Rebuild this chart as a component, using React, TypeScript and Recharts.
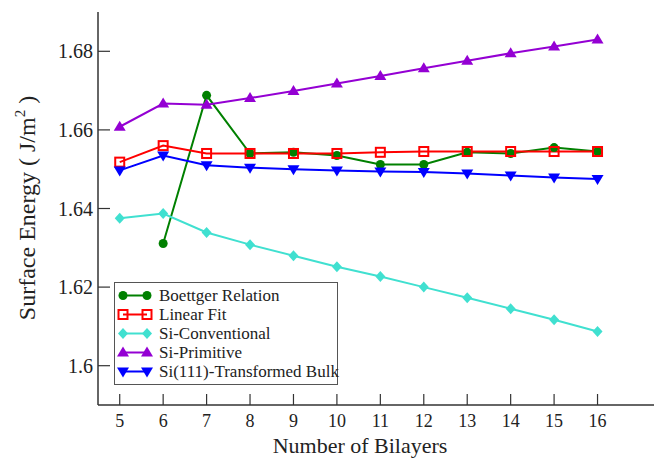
import React from 'react';
import { LineChart, Line, XAxis, YAxis } from 'recharts';

// values
const bilayers = [5, 6, 7, 8, 9, 10, 11, 12, 13, 14, 15, 16];
const boettger = [null, 1.6311, 1.6688, 1.654, 1.6543, 1.6535, 1.6512, 1.6512, 1.6543, 1.654, 1.6555, 1.6545];
const linearFit = [1.6518, 1.656, 1.654, 1.654, 1.654, 1.654, 1.6543, 1.6545, 1.6545, 1.6545, 1.6545, 1.6545];
const siConventional = [1.6375, 1.6387, 1.6339, 1.6308, 1.628, 1.6252, 1.6227, 1.62, 1.6173, 1.6145, 1.6117, 1.6087];
const siPrimitive = [1.6608, 1.6667, 1.6664, 1.6681, 1.6699, 1.6718, 1.6737, 1.6757, 1.6776, 1.6795, 1.6812, 1.683];
const transformedBulk = [1.6497, 1.6535, 1.651, 1.6504, 1.65, 1.6497, 1.6494, 1.6493, 1.6489, 1.6484, 1.6479, 1.6475];
const yTicks = [1.6, 1.62, 1.64, 1.66, 1.68];

const data = bilayers.map((n, i) => ({
  n,
  boettger: boettger[i],
  linearFit: linearFit[i],
  siConventional: siConventional[i],
  siPrimitive: siPrimitive[i],
  transformedBulk: transformedBulk[i],
}));

const FONT = "'Liberation Serif', 'Times New Roman', serif";
const AXIS = '#333';

type Shape = 'circle' | 'square' | 'diamond' | 'triangle' | 'triangleDown';

const series: { key: string; name: string; color: string; shape: Shape }[] = [
  { key: 'boettger', name: 'Boettger Relation', color: '#008000', shape: 'circle' },
  { key: 'linearFit', name: 'Linear Fit', color: '#ff0000', shape: 'square' },
  { key: 'siConventional', name: 'Si-Conventional', color: '#40e0d0', shape: 'diamond' },
  { key: 'siPrimitive', name: 'Si-Primitive', color: '#9400d3', shape: 'triangle' },
  { key: 'transformedBulk', name: 'Si(111)-Transformed Bulk', color: '#0000ff', shape: 'triangleDown' },
];

const Marker = ({ shape, cx, cy, color }: { shape: Shape; cx: number; cy: number; color: string }) => {
  switch (shape) {
    case 'circle':
      return <circle cx={cx} cy={cy} r={4.5} fill={color} />;
    case 'square':
      return <rect x={cx - 4.5} y={cy - 4.5} width={9} height={9} fill="none" stroke={color} strokeWidth={2} />;
    case 'diamond':
      return <polygon points={`${cx},${cy - 5.5} ${cx + 5},${cy} ${cx},${cy + 5.5} ${cx - 5},${cy}`} fill={color} />;
    case 'triangle':
      return <polygon points={`${cx},${cy - 6} ${cx + 6},${cy + 4} ${cx - 6},${cy + 4}`} fill={color} />;
    default:
      return <polygon points={`${cx - 6},${cy - 4} ${cx + 6},${cy - 4} ${cx},${cy + 6}`} fill={color} />;
  }
};

const XTick = (props: any) => {
  const { x, y, payload } = props;
  return (
    <g>
      <line x1={x} x2={x} y1={y} y2={y - 11} stroke={AXIS} strokeWidth={1.2} />
      <text x={x} y={y + 22} textAnchor="middle" fontSize={18} fontFamily={FONT} fill="#222">
        {payload.value}
      </text>
    </g>
  );
};

const YTick = (props: any) => {
  const { x, y, payload } = props;
  return (
    <g>
      <line x1={x} x2={x + 12} y1={y} y2={y} stroke={AXIS} strokeWidth={1.2} />
      <text x={x - 5} y={y} dy="0.35em" textAnchor="end" fontSize={20} fontFamily={FONT} fill="#222">
        {Number(payload.value.toFixed(2)).toString()}
      </text>
    </g>
  );
};

const YTitle = () => (
  <text
    x={35}
    y={208}
    transform="rotate(-90 35 208)"
    textAnchor="middle"
    fontSize={24}
    fontFamily={FONT}
    fill="#222"
  >
    Surface Energy ( J/m
    <tspan dy={-10} fontSize={15}>2</tspan>
    <tspan dy={10}> )</tspan>
  </text>
);

const XTitle = () => (
  <text x={360} y={453} textAnchor="middle" fontSize={22} fontFamily={FONT} fill="#222">
    Number of Bilayers
  </text>
);

const LegendBox = () => (
  <div
    style={{
      position: 'absolute',
      left: 114,
      top: 282,
      width: 224,
      height: 103,
      boxSizing: 'border-box',
      border: '1px solid #555',
      background: '#fff',
      paddingTop: 3,
      fontFamily: FONT,
      fontSize: 17,
      color: '#222',
    }}
  >
    {series.map((s) => (
      <div key={s.key} style={{ display: 'flex', alignItems: 'center', height: 19, whiteSpace: 'nowrap' }}>
        <svg width={36} height={19} style={{ marginLeft: 2, marginRight: 6, flex: 'none' }}>
          <line x1={6} x2={30} y1={9.5} y2={9.5} stroke={s.color} strokeWidth={2} />
          <Marker shape={s.shape} cx={6} cy={9.5} color={s.color} />
          <Marker shape={s.shape} cx={30} cy={9.5} color={s.color} />
        </svg>
        <span style={{ lineHeight: '19px' }}>{s.name}</span>
      </div>
    ))}
  </div>
);

export default function App() {
  return (
    <div style={{ position: 'absolute', left: 0, top: 0, width: 654, height: 459, background: '#fff' }}>
      <LineChart width={654} height={459} data={data} margin={{ top: 12, right: 0, bottom: 0, left: 0 }}>
        <XAxis
          dataKey="n"
          type="number"
          domain={[4.5, 17.3]}
          ticks={bilayers}
          interval={0}
          allowDataOverflow
          height={54}
          tickLine={false}
          tickSize={0}
          tickMargin={0}
          axisLine={{ stroke: AXIS, strokeWidth: 1.5 }}
          tick={<XTick />}
          label={{ content: () => <XTitle /> }}
        />
        <XAxis
          xAxisId="top"
          orientation="top"
          dataKey="n"
          type="number"
          domain={[4.5, 17.3]}
          height={0}
          tick={false}
          tickLine={false}
          axisLine={{ stroke: AXIS, strokeWidth: 1.5 }}
        />
        <YAxis
          type="number"
          domain={[1.59, 1.69]}
          ticks={yTicks}
          interval={0}
          allowDataOverflow
          width={98}
          tickLine={false}
          tickSize={0}
          tickMargin={0}
          axisLine={{ stroke: AXIS, strokeWidth: 1.5 }}
          tick={<YTick />}
          label={{ content: () => <YTitle /> }}
        />
        {series.map((s) => (
          <Line
            key={s.key}
            type="linear"
            dataKey={s.key}
            name={s.name}
            stroke={s.color}
            strokeWidth={2}
            isAnimationActive={false}
            activeDot={false}
            dot={(p: any) =>
              p.cy == null || Number.isNaN(p.cy) || p.value == null ? (
                <g key={`${s.key}-${p.index}`} />
              ) : (
                <Marker key={`${s.key}-${p.index}`} shape={s.shape} cx={p.cx} cy={p.cy} color={s.color} />
              )
            }
          />
        ))}
      </LineChart>
      <LegendBox />
    </div>
  );
}
